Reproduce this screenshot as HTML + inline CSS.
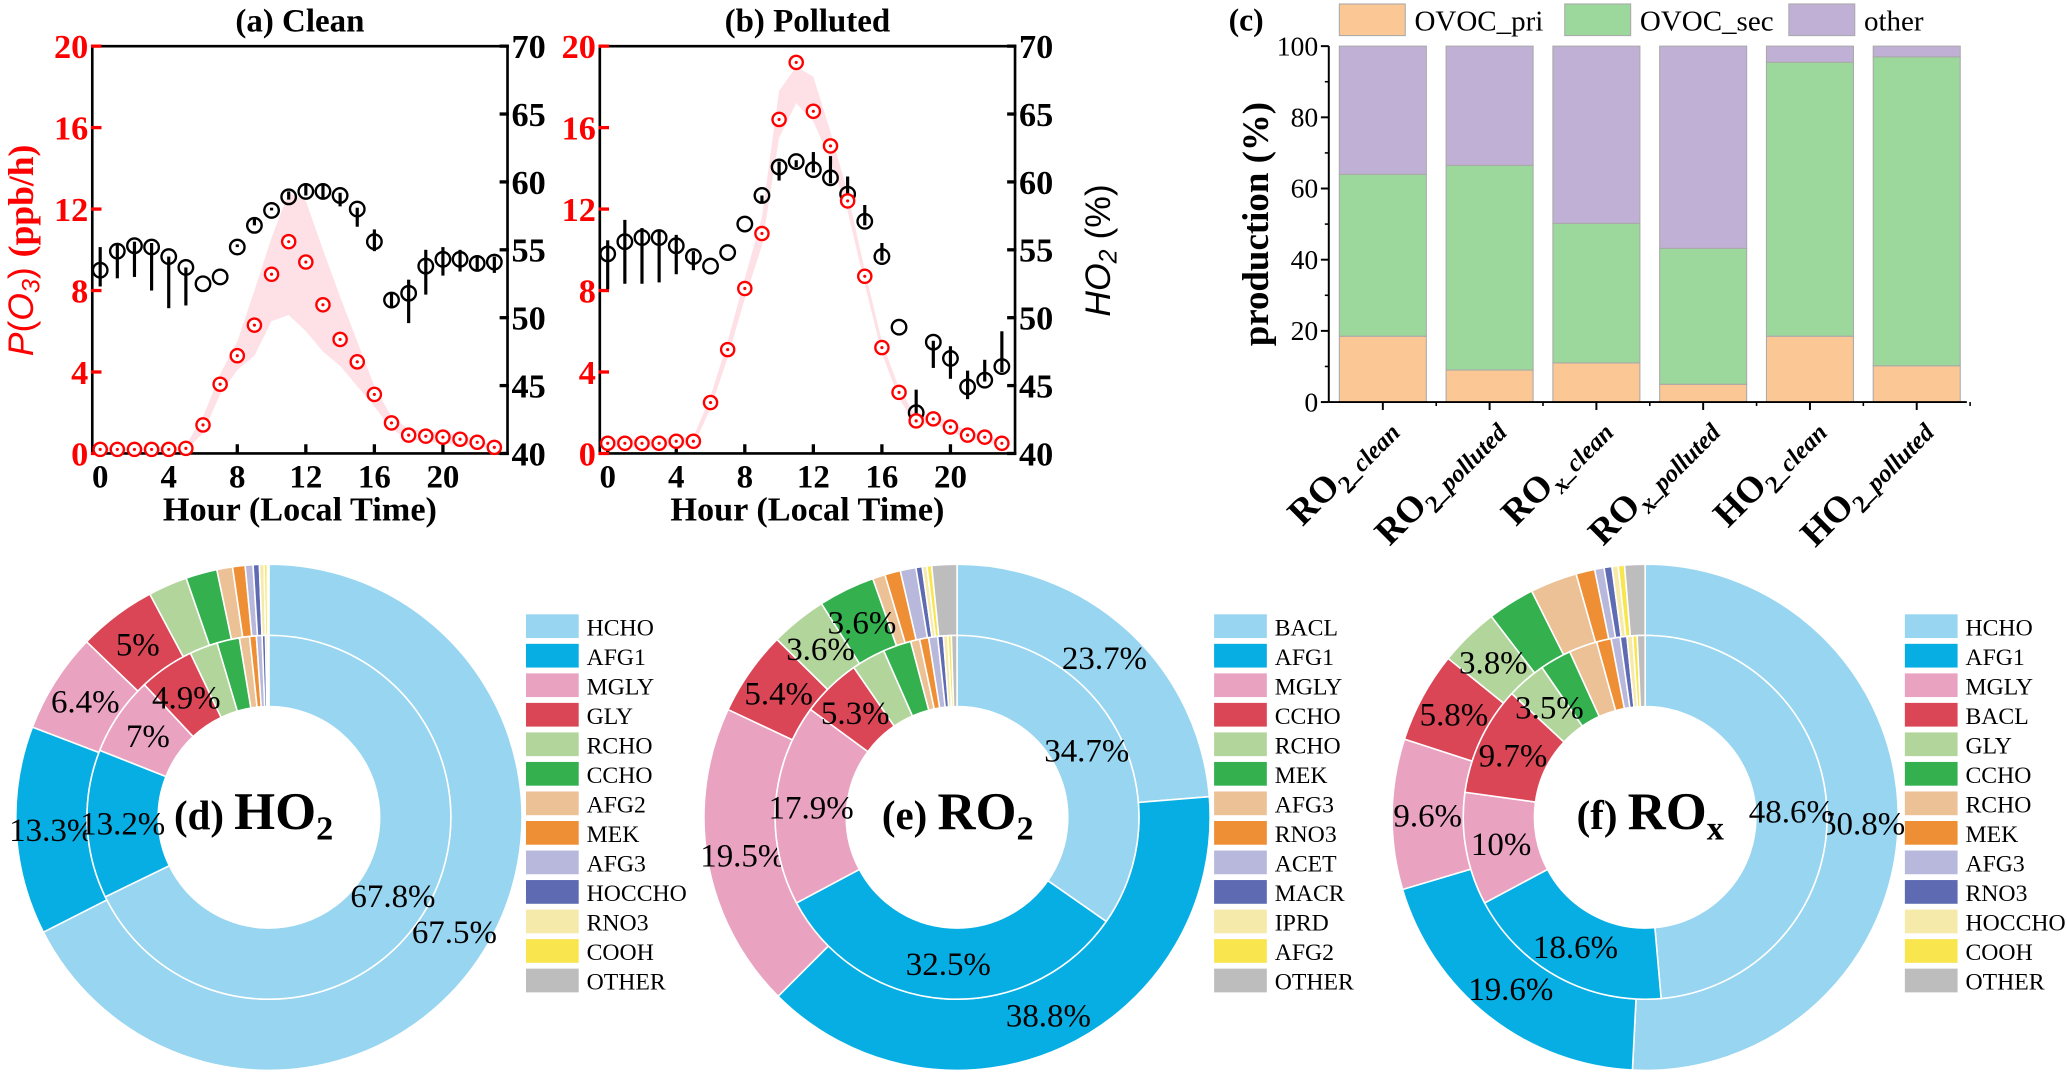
<!DOCTYPE html>
<html><head><meta charset="utf-8">
<style>
html,body{margin:0;padding:0;background:#fff;}
svg{display:block;font-family:"Liberation Serif",serif;}
</style></head>
<body>
<svg id="fig" width="2067" height="1077" viewBox="0 0 1568 817" preserveAspectRatio="none" xmlns="http://www.w3.org/2000/svg"></svg>
<script>
// ---------- Panel a/b data ----------
const hours = [0,1,2,3,4,5,6,7,8,9,10,11,12,13,14,15,16,17,18,19,20,21,22,23];
const xTicks = [0,4,8,12,16,20];
const leftTicks = [0,4,8,12,16,20];
const rightTicks = [40,45,50,55,60,65,70];
const po3Clean = [0.2,0.2,0.2,0.2,0.2,0.25,1.4,3.4,4.8,6.3,8.8,10.4,9.4,7.3,5.6,4.5,2.9,1.5,0.9,0.85,0.8,0.7,0.55,0.3];
const po3CleanHi = [0.3,0.3,0.3,0.3,0.3,0.4,1.8,3.9,5.5,8.0,10.6,12.8,12.4,10.0,7.7,5.5,3.3,1.8,1.2,1.1,1.0,0.9,0.7,0.4];
const po3CleanLo = [0.1,0.1,0.1,0.1,0.1,0.15,1.0,2.9,4.1,4.8,6.5,6.8,6.0,5.0,4.3,3.3,2.3,1.2,0.7,0.6,0.5,0.45,0.35,0.2];
const ho2Clean = [53.5,54.9,55.3,55.2,54.5,53.7,52.5,53.0,55.2,56.8,57.9,58.9,59.3,59.3,59.0,58.0,55.6,51.3,51.8,53.8,54.3,54.3,54.0,54.1];
const ho2CleanLo = [52.3,52.9,53.0,52.0,50.7,50.9,52.5,53.0,55.2,56.8,57.9,58.7,59.0,58.8,58.2,56.7,54.9,50.8,49.6,51.7,53.1,53.4,53.5,53.3];
const ho2CleanHi = [55.2,55.5,55.6,55.5,54.5,53.7,52.5,53.0,55.4,57.4,58.1,59.3,59.9,59.8,59.2,58.1,56.5,51.8,52.8,55.0,55.2,55.0,54.5,54.5];
const po3Poll = [0.5,0.5,0.5,0.5,0.6,0.6,2.5,5.1,8.1,10.8,16.4,19.2,16.8,15.1,12.4,8.7,5.2,3.0,1.6,1.7,1.3,0.9,0.8,0.5];
const po3PollHi = [0.7,0.7,0.7,0.7,0.8,0.8,2.8,5.5,8.6,11.6,17.8,19.0,18.5,15.8,12.8,9.0,5.5,3.2,1.8,1.9,1.5,1.1,0.9,0.6];
const po3PollLo = [0.3,0.3,0.3,0.3,0.4,0.4,2.2,4.7,7.6,10.2,15.5,17.2,16.3,14.4,11.9,8.3,4.9,2.7,1.4,1.5,1.1,0.7,0.6,0.3];
const ho2Poll = [54.7,55.6,55.9,55.9,55.3,54.5,53.8,54.8,56.9,59.0,61.1,61.5,60.9,60.3,59.1,57.1,54.5,49.3,43.0,48.2,47.0,44.9,45.4,46.4];
const ho2PollLo = [52.1,52.5,52.5,52.6,53.2,53.5,53.8,54.8,56.9,58.5,60.1,61.1,60.7,59.9,58.7,56.8,54.2,49.3,42.8,46.3,45.5,44.0,45.3,46.0];
const ho2PollHi = [55.7,57.2,56.6,56.4,56.1,54.9,53.8,54.8,56.9,59.0,61.5,61.6,62.2,61.9,60.4,58.3,55.5,49.3,44.7,48.3,47.9,46.1,46.9,49.0];

// ---------- Panel c data ----------
const barCats = ["RO|2|_clean","RO|2|_polluted","RO|x|_clean","RO|x|_polluted","HO|2|_clean","HO|2|_polluted"];
const ovocPri = [18.5,9.0,11.0,5.0,18.5,10.2];
const ovocSec = [45.5,57.5,39.2,38.2,77.0,86.8];
const otherPct = [36.0,33.5,49.8,56.8,4.5,3.0];
const cTicks = [0,20,40,60,80,100];

// ---------- Donut data ----------
const donutColors = ["#97d5f0","#07aee3","#e9a3c1","#da4655","#b2d59b","#34b04f","#ecc196","#ef8f35","#b8b8dc","#5e6bb2","#f6eaab","#f9e64f","#bdbdbd"];
const dNames = ["HCHO","AFG1","MGLY","GLY","RCHO","CCHO","AFG2","MEK","AFG3","HOCCHO","RNO3","COOH","OTHER"];
const dOuter = [67.5,13.3,6.4,5.0,2.5,2.0,1.0,0.8,0.5,0.4,0.3,0.2,0.1];
const dInner = [67.8,13.2,7.0,4.9,2.5,2.0,0.9,0.6,0.5,0.3,0.2,0.05,0.05];
const eNames = ["BACL","AFG1","MGLY","CCHO","RCHO","MEK","AFG3","RNO3","ACET","MACR","IPRD","AFG2","OTHER"];
const eOuter = [23.7,38.8,19.5,5.4,3.6,3.6,0.8,1.0,1.0,0.4,0.3,0.3,1.6];
const eInner = [34.7,32.5,17.9,5.3,3.0,2.5,0.8,0.8,0.8,0.5,0.4,0.3,0.5];
const fNames = ["HCHO","AFG1","MGLY","BACL","GLY","CCHO","RCHO","MEK","AFG3","RNO3","HOCCHO","COOH","OTHER"];
const fOuter = [50.8,19.6,9.6,5.8,3.8,3.0,3.0,1.2,0.6,0.5,0.4,0.4,1.3];
const fInner = [48.6,18.6,10.0,9.7,3.5,2.8,2.5,1.3,0.8,0.6,0.5,0.4,0.7];

const NS = "http://www.w3.org/2000/svg";
const svg = document.getElementById("fig");
function mk(tag, attrs, parent, text) {
  const e = document.createElementNS(NS, tag);
  for (const k in attrs) e.setAttribute(k, attrs[k]);
  if (text !== undefined) e.textContent = text;
  (parent || svg).appendChild(e);
  return e;
}

// ---------- Line panels ----------
function linePanel(p) {
  const g = mk("g", {});
  
  
  const L = p.left, R = p.left + 315, T = 35, B = 344;
  const xs = h => L + 6 + h * 13.0;
  const yl = v => B - (v / 20) * (B - T);
  const yr = v => B - ((v - 40) / 30) * (B - T);
  let pts = hours.map((h, i) => xs(h) + "," + yl(p.hi[i]));
  pts = pts.concat(hours.slice().reverse().map((h, j) => { const i = hours.length - 1 - j; return xs(h) + "," + yl(p.lo[i]); }));
  const band = mk("polygon", {points: pts.join(" "), fill: "#fde1e6", stroke: "none"}, g);
  
  
  const fr = mk("path", {d: `M${L},${B} L${L},${T} L${R},${T} L${R},${B} Z`, fill: "none", stroke: "#000", "stroke-width": 2}, g);
  
  
  xTicks.forEach(t => {
    mk("line", {x1: xs(t), x2: xs(t), y1: B, y2: B - 7, stroke: "#000", "stroke-width": 2.5}, g);
    const tl = mk("text", {x: xs(t), y: B + 26, "text-anchor": "middle", "font-size": 25, "font-weight": "bold"}, g, String(t));
    
    
  });
  leftTicks.forEach(t => {
    mk("line", {x1: L - 1, x2: L + 7, y1: yl(t), y2: yl(t), stroke: "#f00", "stroke-width": 2.5}, g);
    const tl = mk("text", {x: L - 3, y: yl(t) + 9, "text-anchor": "end", "font-size": 26, "font-weight": "bold", fill: "#f00"}, g, String(t));
    
    
  });
  rightTicks.forEach(t => {
    mk("line", {x1: R - 6, x2: R + 1, y1: yr(t), y2: yr(t), stroke: "#000", "stroke-width": 2.5}, g);
    const tl = mk("text", {x: R + 3, y: yr(t) + 9, "text-anchor": "start", "font-size": 26, "font-weight": "bold"}, g, String(t));
    
    
  });
  hours.forEach((h, i) => {
    const eb = mk("line", {x1: xs(h), x2: xs(h), y1: yr(p.hlo[i]), y2: yr(p.hhi[i]), stroke: "#000", "stroke-width": 2.4}, g);
    
    
    const c = mk("circle", {cx: xs(h), cy: yr(p.ho2[i]), r: 5.5, fill: "none", stroke: "#000", "stroke-width": 1.8}, g);
    
    
  });
  hours.forEach((h, i) => {
    const c = mk("circle", {cx: xs(h), cy: yl(p.po3[i]), r: 5, fill: "#fff", stroke: "#f00", "stroke-width": 1.8}, g);
    
    
    mk("circle", {cx: xs(h), cy: yl(p.po3[i]), r: 1.2, fill: "#f00"}, g);
  });
  const tt = mk("text", {x: (L + R) / 2, y: 24, "text-anchor": "middle", "font-size": 25, "font-weight": "bold"}, g, p.title);
  
  
  const xt = mk("text", {x: (L + R) / 2, y: 395, "text-anchor": "middle", "font-size": 26, "font-weight": "bold"}, g, "Hour (Local Time)");
  
  
}
linePanel({name: "panel-a-clean", left: 70, title: "(a) Clean", po3: po3Clean, hi: po3CleanHi, lo: po3CleanLo, ho2: ho2Clean, hlo: ho2CleanLo, hhi: ho2CleanHi});
linePanel({name: "panel-b-polluted", left: 455, title: "(b) Polluted", po3: po3Poll, hi: po3PollHi, lo: po3PollLo, ho2: ho2Poll, hlo: ho2PollLo, hhi: ho2PollHi});

const yta = mk("text", {transform: "translate(25,190) rotate(-90)", "text-anchor": "middle", "font-size": 27, fill: "#f00", "font-family": "Liberation Sans, sans-serif"});


yta.innerHTML = '<tspan font-style="italic">P</tspan>(<tspan font-style="italic">O</tspan><tspan font-size="19" font-style="italic" dy="5">3</tspan><tspan dy="-5">) </tspan><tspan font-family="Liberation Serif, serif" font-weight="bold">(ppb/h)</tspan>';
const ytb = mk("text", {transform: "translate(842,190) rotate(-90)", "text-anchor": "middle", "font-size": 27, "font-family": "Liberation Sans, sans-serif"});


ytb.innerHTML = '<tspan font-style="italic">HO</tspan><tspan font-size="19" font-style="italic" dy="5">2</tspan><tspan dy="-5"> (%)</tspan>';

// ---------- Panel c ----------
(function () {
  const g = mk("g", {});
  
  
  const L = 1008, R = 1492, T = 35, B = 305;
  const y = v => B - v / 100 * (B - T);
  const bx = i => 1016 + 81 * i;
  const bw = 66;
  const series = [[ovocPri, "#fbc794", "bar-ovoc-pri"], [ovocSec, "#9cd79c", "bar-ovoc-sec"], [otherPct, "#c1b0d6", "bar-other"]];
  barCats.forEach((c, i) => {
    let base = 0;
    series.forEach(s => {
      const v = s[0][i];
      const r = mk("rect", {x: bx(i), y: y(base + v), width: bw, height: y(base) - y(base + v), fill: s[1], stroke: "#a9a9a9", "stroke-width": 0.8}, g);
      
      
      base += v;
    });
  });
  mk("line", {x1: L, x2: L, y1: T, y2: B, stroke: "#000", "stroke-width": 1.5}, g);
  mk("line", {x1: L, x2: R, y1: B, y2: B, stroke: "#000", "stroke-width": 1.5}, g);
  cTicks.forEach(t => {
    mk("line", {x1: L - 6, x2: L, y1: y(t), y2: y(t), stroke: "#000", "stroke-width": 1.5}, g);
    const tl = mk("text", {x: L - 8, y: y(t) + 7, "text-anchor": "end", "font-size": 21}, g, String(t));
    
    
  });
  for (let t = 10; t < 100; t += 20) mk("line", {x1: L - 3, x2: L, y1: y(t), y2: y(t), stroke: "#000", "stroke-width": 1.2}, g);
  barCats.forEach((c, i) => {
    const cx = bx(i) + bw / 2;
    mk("line", {x1: cx, x2: cx, y1: B, y2: B + 6, stroke: "#000", "stroke-width": 1.5}, g);
    mk("line", {x1: cx + 40.5, x2: cx + 40.5, y1: B, y2: B + 3, stroke: "#000", "stroke-width": 1.2}, g);
    const parts = c.split("|");
    const tx = mk("text", {transform: `translate(${cx + 12},${B + 22}) rotate(-45)`, "text-anchor": "end", "font-weight": "bold", "font-size": 28}, g);
    
    
    tx.innerHTML = `<tspan>${parts[0]}</tspan><tspan font-size="19" dy="7" font-style="${parts[1]==='x'?'italic':'normal'}">${parts[1]}</tspan><tspan font-size="19" font-style="italic" dy="-4">${parts[2]}</tspan>`;
  });
  const yt = mk("text", {transform: "translate(962,170) rotate(-90)", "text-anchor": "middle", "font-size": 28, "font-weight": "bold"}, g, "production (%)");
  
  
  const pl = mk("text", {x: 932, y: 23, "font-size": 24, "font-weight": "bold"}, g, "(c)");
  
  
  const legs = [["OVOC_pri", "#fbc794", 1016], ["OVOC_sec", "#9cd79c", 1187], ["other", "#c1b0d6", 1357]];
  legs.forEach(l => {
    const lg = mk("g", {}, g);
    
    
    mk("rect", {x: l[2], y: 3, width: 50, height: 24, fill: l[1], stroke: "#a9a9a9", "stroke-width": 0.8}, lg);
    mk("text", {x: l[2] + 57, y: 23, "font-size": 22}, lg, l[0]);
  });
})();

// ---------- Donuts ----------
function arcPath(cx, cy, r0, r1, a0, a1) {
  const p = (r, a) => [cx + r * Math.sin(a), cy - r * Math.cos(a)];
  const large = (a1 - a0) > Math.PI ? 1 : 0;
  const [x0, y0] = p(r1, a0), [x1, y1] = p(r1, a1), [x2, y2] = p(r0, a1), [x3, y3] = p(r0, a0);
  return `M${x0},${y0} A${r1},${r1} 0 ${large} 1 ${x1},${y1} L${x2},${y2} A${r0},${r0} 0 ${large} 0 ${x3},${y3} Z`;
}
function donut(o) {
  const g = mk("g", {});
  
  
  const cx = o.cx, cy = 620, Ro = 192, Rm = 138, Ri = 84;
  const rings = [[o.outer, Rm, Ro, "outer"], [o.inner, Ri, Rm, "inner"]];
  rings.forEach(rg => {
    const vals = rg[0], tot = vals.reduce((a, b) => a + b, 0);
    let acc = 0;
    vals.forEach((v, i) => {
      const a0 = acc / tot * 2 * Math.PI, a1 = (acc + v) / tot * 2 * Math.PI;
      const s = mk("path", {d: arcPath(cx, cy, rg[1], rg[2], a0, a1), fill: donutColors[i], stroke: "#fff", "stroke-width": 1.2}, g);
      
      
      acc += v;
    });
    acc = 0;
    vals.forEach((v, i) => {
      const am = (acc + v / 2) / tot * 2 * Math.PI;
      acc += v;
      if (v < 3.4) return;
      const rr = (rg[1] + rg[2]) / 2;
      const t = mk("text", {x: cx + rr * Math.sin(am), y: cy - rr * Math.cos(am) + 9, "text-anchor": "middle", "font-size": 25}, g, v + "%");
      
      
    });
  });
  const ct = mk("text", {x: o.tx, y: 629, "font-weight": "bold", "font-size": 40}, g);
  
  
  ct.innerHTML = `<tspan font-size="31">${o.lab} </tspan>${o.sp}<tspan font-size="26" dy="8">${o.sub}</tspan>`;
  o.names.forEach((n, i) => {
    const lg = mk("g", {}, g);
    
    
    const ly = 466 + i * 22.4;
    mk("rect", {x: o.lx, y: ly, width: 40, height: 18, fill: donutColors[i]}, lg);
    mk("text", {x: o.lx + 46, y: ly + 16, "font-size": 18}, lg, n);
  });
}
donut({name: "panel-d-ho2-donut", cx: 204, outer: dOuter, inner: dInner, names: dNames, lab: "(d)", sp: "HO", sub: "2", tx: 132, lx: 399});
donut({name: "panel-e-ro2-donut", cx: 726, outer: eOuter, inner: eInner, names: eNames, lab: "(e)", sp: "RO", sub: "2", tx: 669, lx: 921});
donut({name: "panel-f-rox-donut", cx: 1248, outer: fOuter, inner: fInner, names: fNames, lab: "(f)", sp: "RO", sub: "x", tx: 1196, lx: 1445});
</script>
</body></html>
